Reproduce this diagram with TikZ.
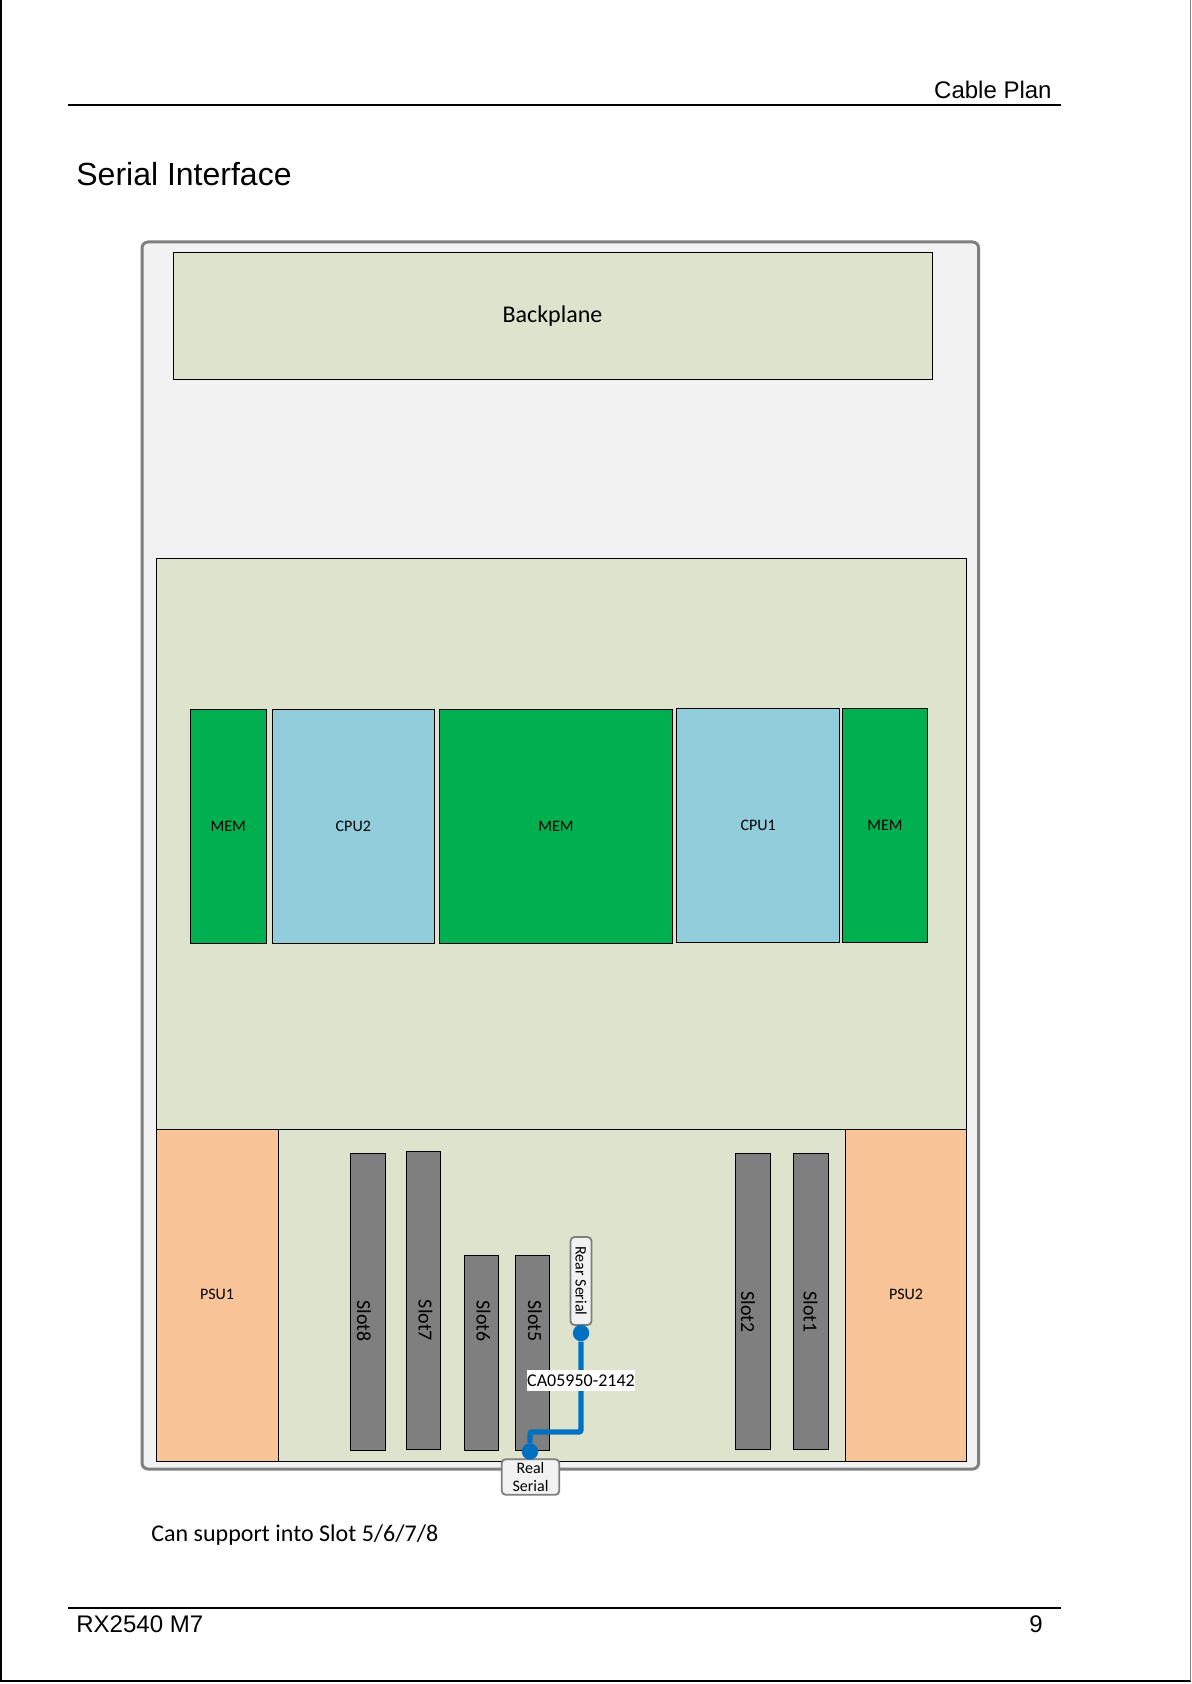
\documentclass[tikz,border=0pt]{standalone}
\usepackage{fontspec}
\setmainfont{Liberation Sans}
\newfontfamily\carlito{Carlito}
\usepackage{xcolor}
\usetikzlibrary{positioning}
\definecolor{boardgreen}{HTML}{DDE3CC}
\definecolor{memgreen}{HTML}{00B050}
\definecolor{cpublue}{HTML}{92CDDC}
\definecolor{psuorange}{HTML}{FAC499}
\definecolor{chassisgrey}{HTML}{F2F2F2}
\definecolor{edgegrey}{HTML}{7F7F7F}
\definecolor{wireblue}{HTML}{0070C0}

\begin{document}
\begin{tikzpicture}[x=0.5pt, y=-0.5pt, node distance=2pt and 2pt,
  blk/.style={draw, line width=0.5pt, inner sep=0pt, outer sep=0pt, font=\carlito\fontsize{8}{9}\selectfont},
  board/.style={blk, fill=boardgreen},
  mem/.style={blk, fill=memgreen, minimum height=117pt},
  cpu/.style={blk, fill=cpublue, minimum width=81.3pt, minimum height=117pt},
  psu/.style={blk, fill=psuorange, minimum height=166pt},
  slot/.style={blk, fill=edgegrey, minimum width=17.3pt},
  slotlbl/.style={rotate=-90, inner sep=0pt, font=\carlito\fontsize{10}{11}\selectfont},
  port/.style={draw=edgegrey, line width=0.9pt, fill=chassisgrey, rounded corners=2pt, inner sep=0pt, outer sep=0pt, align=center, font=\carlito\fontsize{8}{9.3}\selectfont},
  dot/.style={circle, fill=wireblue, inner sep=0pt, minimum size=8.2pt},
  head/.style={inner sep=0pt, anchor=base, font=\fontsize{12}{14}\selectfont}]
  \useasboundingbox (0,0) rectangle (1191,1684);
  \fill[white] (0,0) rectangle (1191,1684);
  % page edge and rules
  \draw[line width=0.8pt] (1,0) -- (1,1681) -- (1191,1681);
  \draw[edgegrey, line width=0.6pt] (1190.3,0) -- (1190.3,1681);
  \draw[line width=1pt] (68,105) -- (1061,105);
  \draw[line width=1pt] (68,1607.5) -- (1061,1607.5);
  \node[head, anchor=base east] (plan) at (1052,99) {Cable Plan};
  \node[head, anchor=base west, font=\fontsize{16}{18}\selectfont] (title) at (76,186) {Serial Interface};
  \node[head, anchor=base west] (model) at (76,1632) {RX2540 M7};
  \node[head, anchor=base east] (page) at (1043,1632) {9};
  % chassis
  \node[draw=edgegrey, line width=1.5pt, fill=chassisgrey, rounded corners=3pt, minimum width=418.3pt, minimum height=613.5pt, inner sep=0pt] (chassis) at (560.3,855.5) {};
  \node[board, minimum width=379.5pt, minimum height=63.5pt, font=\carlito\fontsize{12}{14}\selectfont] (backplane) at (552.5,316.5) {Backplane};
  \node[board, minimum width=405.3pt, minimum height=285.5pt] (mainboard) at (561.3,844) {};
  \node[board, minimum width=283.5pt, minimum height=166pt] (riser) at (561.5,1295) {};
  % memory and cpus
  \node[mem, minimum width=38.3pt] (mem2) at (228.3,826.3) {MEM};
  \node[cpu, right=2.7pt of mem2] (cpu2) {CPU2};
  \node[mem, minimum width=116.5pt, right=2.4pt of cpu2] (mem0) {MEM};
  \node[cpu, right=2.2pt of mem0, yshift=0.4pt] (cpu1) {CPU1};
  \node[mem, minimum width=42.6pt, right=1.5pt of cpu1] (mem1) {MEM};
  % power supplies
  \node[psu, minimum width=61pt, left=0pt of riser] (psu1) {};
  \node[psu, minimum width=60.8pt, right=0pt of riser] (psu2) {};
  \node[inner sep=0pt, font=\carlito\fontsize{8}{9}\selectfont] (psu1lbl) at (217,1294.5) {PSU1};
  \node[inner sep=0pt, font=\carlito\fontsize{8}{9}\selectfont] (psu2lbl) at (906,1294.5) {PSU2};
  % slots
  \node[slot, minimum height=148.7pt] (slot8) at (367.7,1301.7) {};
  \node[slot, minimum height=149pt] (slot7) at (423.5,1300) {};
  \node[slot, minimum height=97.5pt] (slot6) at (481.5,1352.5) {};
  \node[slot, minimum height=97.5pt] (slot5) at (532.5,1352.5) {};
  \node[slot, minimum height=148pt] (slot2) at (752.7,1301) {};
  \node[slot, minimum height=148pt] (slot1) at (811,1301) {};
  \node[slotlbl] (slot8lbl) at (364,1321) {Slot8};
  \node[slotlbl] (slot7lbl) at (425.5,1320.5) {Slot7};
  \node[slotlbl] (slot6lbl) at (483.5,1321) {Slot6};
  \node[slotlbl] (slot5lbl) at (535,1321) {Slot5};
  \node[slotlbl] (slot2lbl) at (748,1312) {Slot2};
  \node[slotlbl] (slot1lbl) at (810.5,1312) {Slot1};
  % serial cable
  \node[port, rotate=-90, minimum width=44pt, minimum height=10.5pt] (rear) at (581,1281) {Rear Serial};
  \node[port, minimum width=28.8pt, minimum height=17.8pt] (real) at (530.5,1477) {Real\\Serial};
  \node[dot] (reardot) at (581,1333) {};
  \node[dot] (realdot) at (530,1451.5) {};
  \draw[wireblue, line width=2.6pt, rounded corners=1pt] (reardot) |- (530,1432) -- (realdot);
  \node[fill=white, inner sep=0pt, minimum width=54pt, minimum height=10.5pt, font=\carlito\fontsize{9}{10}\selectfont] (cable) at (581,1380.5) {CA05950-2142};
  \node[inner sep=0pt, anchor=base west, font=\carlito\fontsize{12}{14}\selectfont] (note) at (151,1541) {Can support into Slot 5/6/7/8};
\end{tikzpicture}
\end{document}
